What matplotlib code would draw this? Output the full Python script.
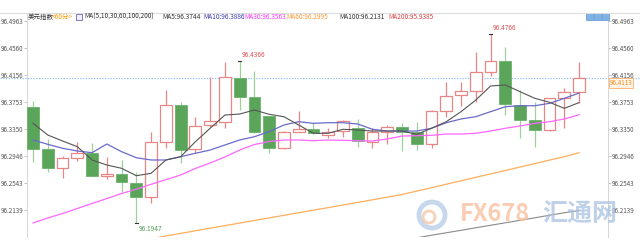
import matplotlib.pyplot as plt
import numpy as np
from matplotlib.patches import Rectangle, Ellipse
from matplotlib.lines import Line2D

plt.rcParams['font.family'] = ['Liberation Sans Narrow', 'Noto Sans CJK SC', 'DejaVu Sans']

# 60-minute candles, US dollar index
opens = [96.3682, 96.3046, 96.2771, 96.2911, 96.2995, 96.2647, 96.2672, 96.2542, 96.2337, 96.3159,
         96.3708, 96.3046, 96.3404, 96.3458, 96.4116, 96.3832, 96.3543, 96.3061, 96.3309, 96.3344,
         96.3259, 96.3319, 96.3360, 96.3159, 96.3309, 96.3374, 96.3300, 96.3120, 96.3618, 96.3857,
         96.3921, 96.4196, 96.4365, 96.3708, 96.3484, 96.3334, 96.3808, 96.3907]
highs = [96.3768, 96.3200, 96.2950, 96.3150, 96.3135, 96.2935, 96.2886, 96.2711, 96.3309, 96.3932,
         96.3748, 96.3533, 96.4131, 96.4355, 96.4366, 96.4216, 96.3550, 96.3320, 96.3618, 96.3443,
         96.3360, 96.3484, 96.3499, 96.3369, 96.3409, 96.3434, 96.3458, 96.3633, 96.4047, 96.4047,
         96.4504, 96.4766, 96.4570, 96.3932, 96.3748, 96.3817, 96.3957, 96.4346]
lows = [96.2860, 96.2711, 96.2612, 96.2871, 96.2640, 96.2602, 96.2412, 96.1947, 96.2239, 96.3070,
        96.2837, 96.2995, 96.3379, 96.3360, 96.3633, 96.3290, 96.2986, 96.3050, 96.3300, 96.3270,
        96.3210, 96.3234, 96.3085, 96.3070, 96.3120, 96.3020, 96.3035, 96.3070, 96.3533, 96.3693,
        96.3757, 96.4146, 96.3558, 96.3210, 96.3085, 96.3319, 96.3360, 96.3733]
closes = [96.3050, 96.2771, 96.2911, 96.2986, 96.2651, 96.2672, 96.2553, 96.2328, 96.3150, 96.3708,
          96.3035, 96.3394, 96.3464, 96.4122, 96.3832, 96.3309, 96.3061, 96.3309, 96.3344, 96.3285,
          96.3300, 96.3473, 96.3174, 96.3309, 96.3374, 96.3300, 96.3120, 96.3618, 96.3842, 96.3917,
          96.4196, 96.4365, 96.3718, 96.3484, 96.3334, 96.3808, 96.3907, 96.4113]

ma5 = [96.3434, 96.3259, 96.3170, 96.3085, 96.2886, 96.2811, 96.2762, 96.2651, 96.2687, 96.2886,
       96.2935, 96.3159, 96.3360, 96.3558, 96.3573, 96.3633, 96.3569, 96.3533, 96.3409, 96.3285,
       96.3285, 96.3345, 96.3334, 96.3319, 96.3319, 96.3319, 96.3270, 96.3360, 96.3458, 96.3608,
       96.3782, 96.3992, 96.4007, 96.3907, 96.3808, 96.3748, 96.3658, 96.3744]
ma10 = [96.3185, 96.3120, 96.3061, 96.3020, 96.2995, 96.3125, 96.3010, 96.2920, 96.2886, 96.2886,
        96.2935, 96.2986, 96.3035, 96.3110, 96.3185, 96.3234, 96.3309, 96.3409, 96.3458, 96.3434,
        96.3443, 96.3443, 96.3424, 96.3345, 96.3319, 96.3319, 96.3319, 96.3360, 96.3443, 96.3499,
        96.3533, 96.3608, 96.3682, 96.3697, 96.3697, 96.3733, 96.3808, 96.3886]
ma30 = [96.1944, 96.2019, 96.2086, 96.2161, 96.2236, 96.2310, 96.2385, 96.2449, 96.2523, 96.2591,
        96.2662, 96.2759, 96.2841, 96.2931, 96.3035, 96.3117, 96.3162, 96.3185, 96.3185, 96.3174,
        96.3185, 96.3180, 96.3174, 96.3170, 96.3200, 96.3244, 96.3249, 96.3255, 96.3274, 96.3274,
        96.3285, 96.3319, 96.3360, 96.3394, 96.3434, 96.3458, 96.3499, 96.3563]
ma60 = [np.nan] * 8 + [
        96.1711, 96.1750, 96.1789, 96.1828, 96.1867, 96.1905, 96.1943, 96.1982, 96.2020, 96.2059,
        96.2098, 96.2136, 96.2174, 96.2213, 96.2252, 96.2291, 96.2330, 96.2370, 96.2421, 96.2472,
        96.2524, 96.2575, 96.2627, 96.2678, 96.2729, 96.2781, 96.2832, 96.2884, 96.2935, 96.2995]
ma100 = [np.nan] * 26 + [
         96.1723, 96.1761, 96.1798, 96.1835, 96.1873, 96.1910, 96.1947, 96.1985, 96.2022, 96.2060,
         96.2097, 96.2131]

yticks = [96.4963, 96.4560, 96.4156, 96.3753, 96.3350, 96.2946, 96.2543, 96.2139]
high_marks = [14, 31]
low_marks = [7]
last_price = 96.4113

header = [("美元指数", "#333333", 28), ("<60分>", "#ff9900", 52),
          ("MA(5,10,30,60,100,200)", "#333333", 84), ("MA5:96.3744", "#333333", 162),
          ("MA10:96.3886", "#3c3cb4", 203), ("MA30:96.3563", "#ff33ff", 244),
          ("MA60:96.2995", "#ff9933", 286), ("MA100:96.2131", "#333333", 339),
          ("MA200:95.9385", "#e04040", 388)]

W, H = 640, 250
fig = plt.figure(figsize=(6.4, 2.5), dpi=100)
ax = fig.add_axes([27 / W, 13 / H, 581 / W, 224 / H])

red = "#e88686"
green = "#5ba55b"
green_wick = "#9dd09d"
x = np.arange(len(closes))
o = np.array(opens); c = np.array(closes)
up = c >= o
wick_cols = [red if u else green_wick for u in up]
ax.vlines(x, lows, highs, colors=wick_cols, linewidth=0.9, zorder=2)
ax.bar(x[up], (c - o)[up], bottom=o[up], width=0.8, facecolor="white",
       edgecolor=red, linewidth=0.9, zorder=3)
ax.bar(x[~up], (o - c)[~up], bottom=c[~up], width=0.8, facecolor=green,
       edgecolor="#6cb36c", linewidth=0.6, zorder=3)

ax.plot(x, ma100, color="#8a8a8a", lw=0.8, zorder=4)
ax.plot(x, ma60, color="#ffae5c", lw=0.9, zorder=4)
ax.plot(x, ma30, color="#ff66ff", lw=0.9, zorder=4)
ax.plot(x, ma10, color="#6a6acc", lw=0.9, zorder=4)
ax.plot(x, ma5, color="#555555", lw=0.8, zorder=4)

for i in high_marks:
    ax.plot([i - 0.12, i + 0.12], [highs[i]] * 2, color="#333333", lw=0.8, zorder=5)
    ax.annotate(f"{highs[i]:.4f}", (i, highs[i]), xytext=(2, 2), textcoords="offset pixels",
                fontsize=4.7, color="#e05050", va="bottom", ha="left")
for i in low_marks:
    ax.plot([i - 0.12, i + 0.12], [lows[i]] * 2, color="#333333", lw=0.8, zorder=5)
    ax.annotate(f"{lows[i]:.4f}", (i, lows[i]), xytext=(2, -2), textcoords="offset pixels",
                fontsize=4.7, color="#55a055", va="top", ha="left")

ax.set_xlim(-0.41, 38.96)
ax.set_ylim(96.1735, 96.5083)
ax.set_xticks([])
ax.set_yticks(yticks)
ax.set_yticklabels([f"{t:.4f}" for t in yticks])
ax.tick_params(axis="y", which="both", left=True, right=True, labelleft=True, labelright=True,
               length=2, width=0.6, color="#bbbbbb", labelsize=4.5, labelcolor="#555555", pad=0.8)
for s in ["bottom", "top"]:
    ax.spines[s].set_visible(False)
for s in ["left", "right"]:
    ax.spines[s].set_color("#d0d0d0")
    ax.spines[s].set_linestyle((0, (1, 1)))
    ax.spines[s].set_linewidth(0.6)

# current price line and tag
ax.axhline(last_price, xmin=-27 / 581, xmax=613 / 581, color="#8ec0f0", lw=0.9,
           ls=(0, (1, 1.2)), clip_on=False, zorder=1)
ax.text(1.003, last_price - 0.0013, f"{last_price:.4f}", transform=ax.get_yaxis_transform(),
        fontsize=4.5, color="#ff8c1a", ha="left", va="top",
        bbox=dict(boxstyle="square,pad=0.12", facecolor="#fff4e8", edgecolor="#ffb070", lw=0.6))

# header
fig.add_artist(Line2D([0, 1], [1 - 13 / H] * 2, color="#dddddd", lw=0.8))
for txt, col, px in header:
    fig.text(px / W, 1 - 17 / H, txt, color=col, fontsize=4.7, va="center", ha="left")
fig.add_artist(Rectangle((76 / W, 1 - 20 / H), 6 / W, 6 / H, facecolor="#f0f0ff",
                         edgecolor="#7060c0", lw=0.6))
for k in range(3):
    fig.add_artist(Rectangle(((586 + 8 * k) / W, 1 - 20 / H), 7 / W, 7 / H,
                             facecolor="#7fb2e5", edgecolor="#5a94d0", lw=0.5))

# watermark
fig.add_artist(Ellipse((432 / W, 1 - 215 / H), 26 / W, 26 / H, transform=fig.transFigure,
                       facecolor="none", edgecolor="#b9cde9", lw=3.5, alpha=0.8))
fig.add_artist(Ellipse((429 / W, 1 - 217 / H), 12 / W, 12 / H, transform=fig.transFigure,
                       facecolor="none", edgecolor="#f6c6a6", lw=2, alpha=0.8))
fig.text(460 / W, 1 - 214 / H, "FX678", fontsize=17, fontweight="bold", color="#f9c0a0",
         alpha=0.8, va="center", ha="left", zorder=10)
fig.text(542 / W, 1 - 214 / H, "汇通网", fontsize=18, fontweight="bold", color="#a8c2e2",
         alpha=0.75, va="center", ha="left", zorder=10)

fig.savefig("out.png", dpi=100)
